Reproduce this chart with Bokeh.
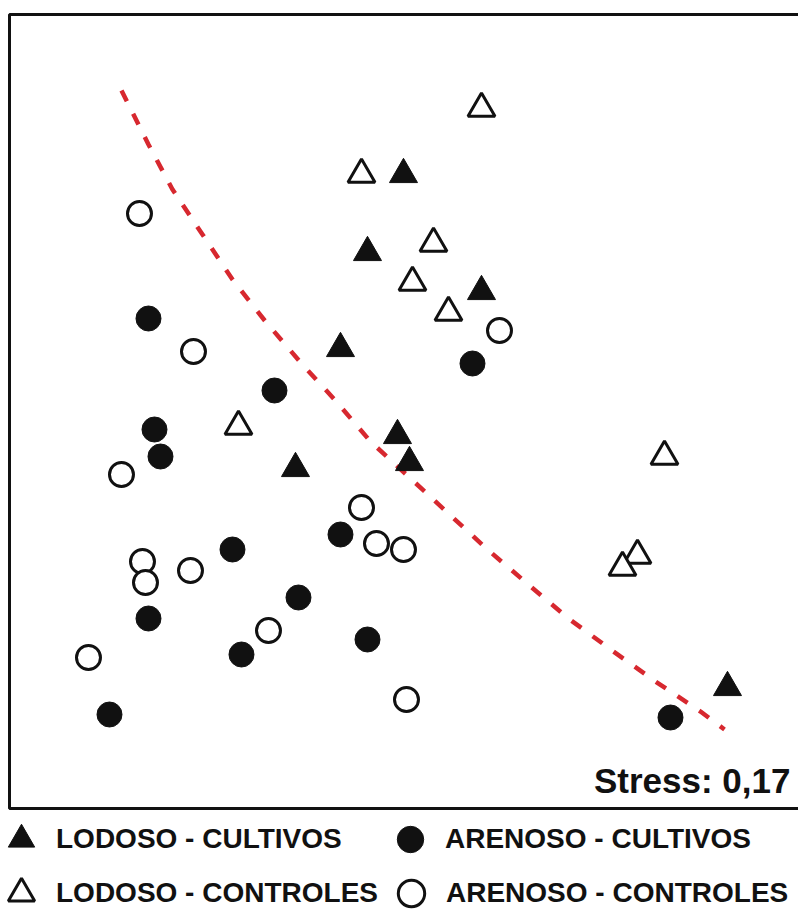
from bokeh.plotting import figure
from bokeh.models import Range1d, Label, Legend, LegendItem, BoxAnnotation
from bokeh.embed import file_html
from bokeh.resources import INLINE

# NMDS scores
lc_x = [0.01, -0.11, 0.27, -0.20, -0.01, 0.03, -0.35, 1.09]          # LODOSO - CULTIVOS
lc_y = [0.92, 0.66, 0.53, 0.34, 0.05, -0.04, -0.06, -0.79]
lk_x = [0.27, -0.13, 0.11, 0.04, 0.16, -0.54, 0.88, 0.79, 0.74]      # LODOSO - CONTROLES
lk_y = [1.14, 0.92, 0.69, 0.56, 0.46, 0.08, -0.02, -0.35, -0.39]
ac_x = [-0.84, 0.24, -0.42, -0.82, -0.80, -0.56, -0.20, -0.34, -0.84, -0.53, -0.11, -0.97, 0.90]  # ARENOSO - CULTIVOS
ac_y = [0.44, 0.29, 0.20, 0.07, -0.02, -0.33, -0.28, -0.49, -0.56, -0.68, -0.63, -0.88, -0.89]
ak_x = [-0.87, -0.69, 0.33, -0.93, -0.86, -0.85, -0.70, -0.13, -0.08, 0.01, -0.44, -1.04, 0.02]   # ARENOSO - CONTROLES
ak_y = [0.79, 0.33, 0.40, -0.08, -0.37, -0.44, -0.40, -0.19, -0.31, -0.33, -0.60, -0.69, -0.83]
# separating curve (red dashed)
curve_x = [-0.93, -0.84, -0.76, -0.66, -0.56, -0.45, -0.33, -0.22, -0.10, 0.03, 0.16, 0.29, 0.43, 0.56, 0.71, 0.85, 1.00, 1.08]
curve_y = [1.20, 1.02, 0.87, 0.72, 0.57, 0.43, 0.29, 0.17, 0.03, -0.09, -0.21, -0.33, -0.45, -0.56, -0.67, -0.77, -0.87, -0.93]
labels = ["LODOSO - CULTIVOS", "LODOSO - CONTROLES", "ARENOSO - CULTIVOS", "ARENOSO - CONTROLES"]
stress_text = "Stress: 0,17"

FONT = "Liberation Sans"
INK = "#111111"

p = figure(width=798, height=913, x_range=Range1d(-1.3333, 1.3267), y_range=Range1d(-1.5433, 1.5),
           output_backend="svg", toolbar_location=None,
           x_axis_location=None, y_axis_location=None,
           min_border_left=0, min_border_right=0, min_border_top=0, min_border_bottom=0)
p.outline_line_color = None
p.grid.visible = False
p.background_fill_color = "white"
p.border_fill_color = "white"

# plot frame (its right side lies outside the visible area, as in the original crop)
p.add_layout(BoxAnnotation(left=-1.3033, right=1.40, bottom=-1.1933, top=1.4533,
                           fill_alpha=0, line_color=INK, line_width=3, line_alpha=1))

p.line(curve_x, curve_y, line_color="#d7282f", line_width=4.5, line_dash="12 14")

r_lc = p.scatter(lc_x, lc_y, marker="triangle", size=28, fill_color=INK, line_color=INK, line_width=1)
r_lk = p.scatter(lk_x, lk_y, marker="triangle", size=27, fill_color="white", line_color=INK, line_width=3)
r_ac = p.scatter(ac_x, ac_y, marker="circle", size=25, fill_color=INK, line_color=INK, line_width=1)
r_ak = p.scatter(ak_x, ak_y, marker="circle", size=24, fill_color="white", line_color=INK, line_width=3)

p.add_layout(Label(x=1.30, y=-1.10, text=stress_text, text_align="right", text_baseline="alphabetic",
                   text_font=FONT, text_font_size="35px", text_font_style="bold", text_color=INK))

legend_style = dict(orientation="horizontal", glyph_width=66, glyph_height=66, spacing=0,
                    label_standoff=2, label_width=321, label_height=30, margin=0, padding=0,
                    border_line_color=None, background_fill_alpha=0,
                    label_text_font=FONT, label_text_font_size="28px", label_text_font_style="bold",
                    label_text_color=INK)
legend_top = Legend(items=[LegendItem(label=labels[0], renderers=[r_lc]),
                           LegendItem(label=labels[2], renderers=[r_ac])],
                    location=(-12, 41), **legend_style)
legend_bottom = Legend(items=[LegendItem(label=labels[1], renderers=[r_lk]),
                              LegendItem(label=labels[3], renderers=[r_ak])],
                       location=(-12, -13), **legend_style)
p.add_layout(legend_top, "center")
p.add_layout(legend_bottom, "center")

open("out.html", "w").write(file_html(p, INLINE))
